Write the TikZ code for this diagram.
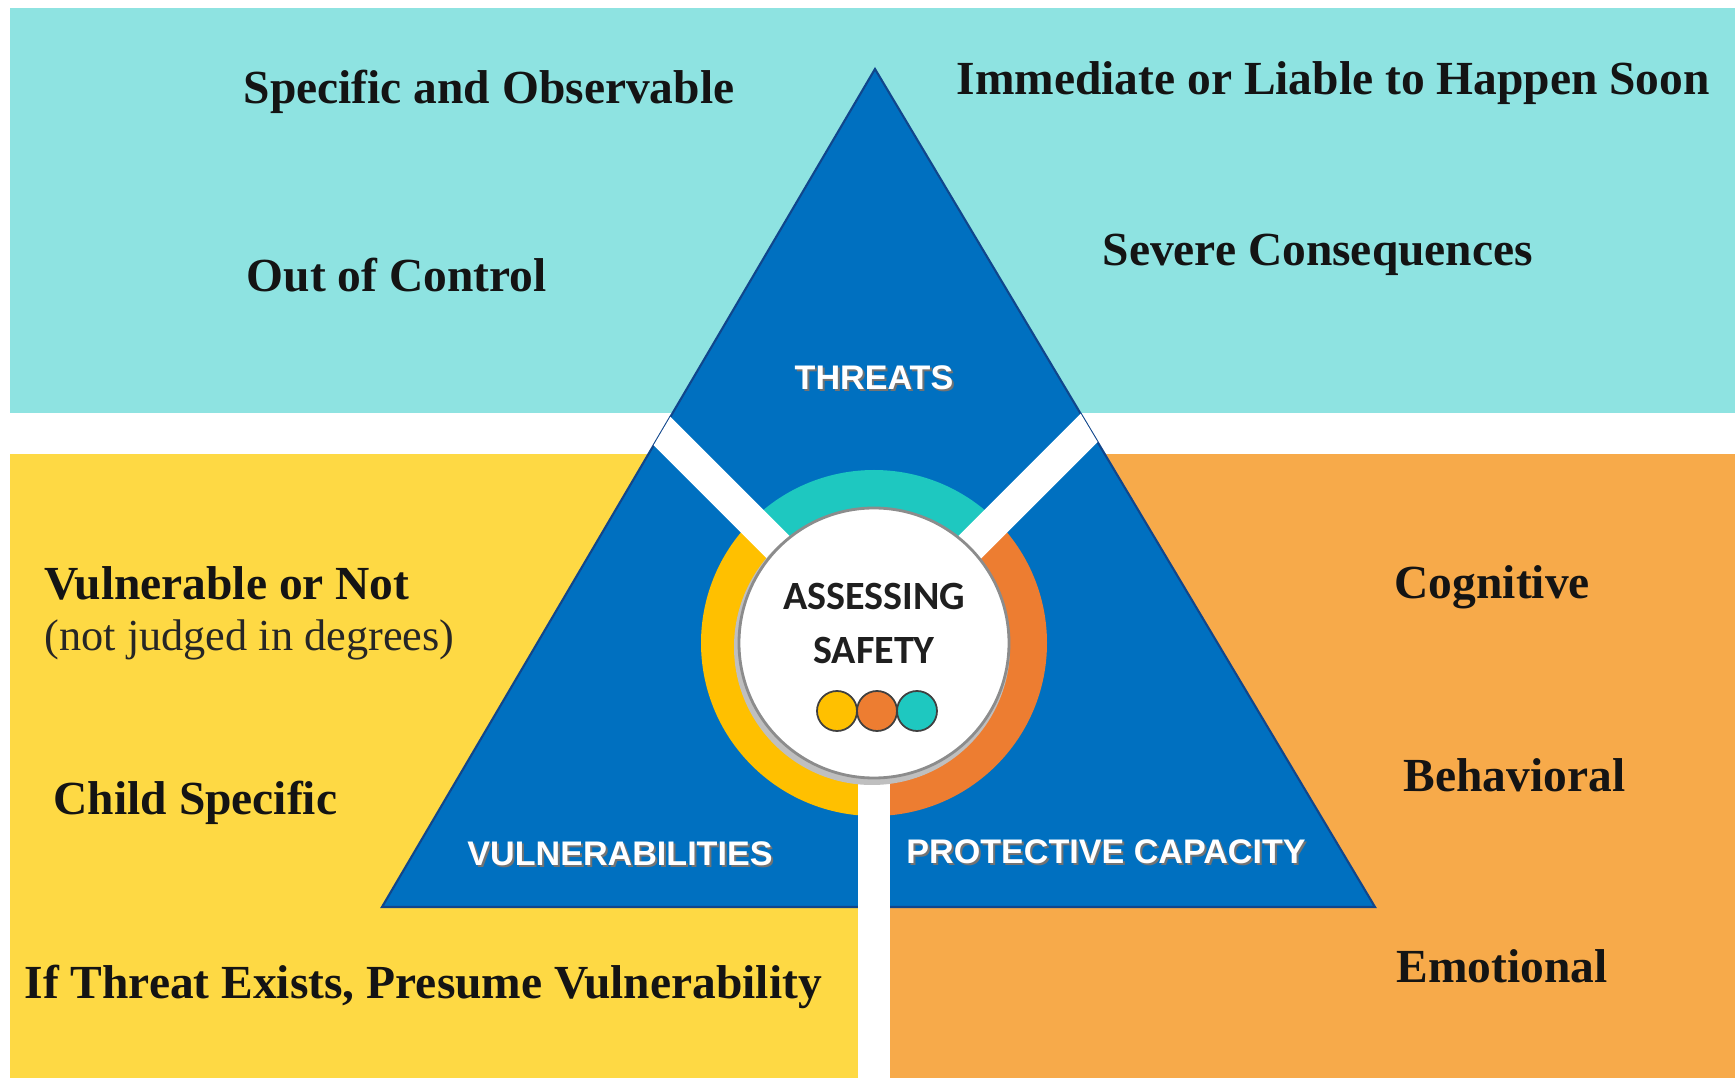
\documentclass[tikz,border=0pt]{standalone}
\usepackage{fontspec}
\setmainfont{Liberation Serif}
\newfontfamily\capsfont{Liberation Sans}
\newfontfamily\corefont{Carlito}
\definecolor{skyband}{RGB}{142,227,225}
\definecolor{sunband}{RGB}{254,217,68}
\definecolor{amberband}{RGB}{247,170,74}
\definecolor{triblue}{RGB}{0,112,192}
\definecolor{triedge}{RGB}{16,70,140}
\definecolor{ringcyan}{RGB}{30,200,192}
\definecolor{ringgold}{RGB}{255,192,0}
\definecolor{ringorange}{RGB}{237,125,49}
\begin{document}
\begin{tikzpicture}[x=0.01cm, y=0.01cm,
	lbl/.style={anchor=west, inner sep=0pt, text=black!92, font=\fontsize{13.5}{16}\selectfont\bfseries},
	note/.style={anchor=west, inner sep=0pt, text=black!85, font=\fontsize{12.6}{15}\selectfont},
	tag/.style={inner sep=0pt, text=white, font=\capsfont\fontsize{9.7}{11}\selectfont\bfseries},
	tagshade/.style={tag, text=black!55},
	core/.style={inner sep=0pt, text=black!88, font=\corefont\fontsize{11.4}{13}\selectfont\bfseries},
	gap/.style={white, line width=0.32cm},
	dot/.style={draw=black!75, line width=0.5pt}]
	\useasboundingbox (0,0) rectangle (1735,1078);
	\fill[white] (0,0) rectangle (1735,1078);
	\fill[skyband] (10,665) rectangle (1735,1070);
	\fill[sunband] (10,0) rectangle (858,624);
	\fill[amberband] (890,0) rectangle (1735,624);
	\coordinate (apex) at (875,1009);
	\coordinate (baseL) at (382,171);
	\coordinate (baseR) at (1375,171);
	\coordinate (mid) at (874,435);
	\coordinate (foot) at (874,0);
	\filldraw[fill=triblue, draw=triedge, line width=0.6pt] (apex) -- (baseL) -- (baseR) -- cycle;
	\fill[ringcyan] (mid) -- ++(45:173) arc[start angle=45, end angle=135, radius=173] -- cycle;
	\fill[ringgold] (mid) -- ++(135:173) arc[start angle=135, end angle=270, radius=173] -- cycle;
	\fill[ringorange] (mid) -- ++(270:173) arc[start angle=270, end angle=405, radius=173] -- cycle;
	\begin{scope}
		\clip (apex) -- (baseL) -- (baseR) -- cycle;
		\draw[gap] (mid) -- ++(135:420);
		\draw[gap] (mid) -- ++(45:420);
	\end{scope}
	\draw[gap] (mid) -- (foot);
	\fill[black!25] (872,431) circle (138);
	\filldraw[fill=white, draw=black!45, line width=0.8pt] (mid) circle (135);
	\filldraw[dot, fill=ringgold] (837,367) circle (20);
	\filldraw[dot, fill=ringorange] (877,367) circle (20);
	\filldraw[dot, fill=ringcyan] (917,367) circle (20);
	\node[core] (assess) at (874,482) {ASSESSING};
	\node[core] (safety) at (874,428) {SAFETY};
	\node[tagshade] at (876,698) {THREATS};
	\node[tag] (threats) at (874,700) {THREATS};
	\node[tagshade] at (622,222) {VULNERABILITIES};
	\node[tag] (vuln) at (620,224) {VULNERABILITIES};
	\node[tagshade] at (1108,224) {PROTECTIVE CAPACITY};
	\node[tag] (protect) at (1106,226) {PROTECTIVE CAPACITY};
	\node[lbl] (specific) at (243,986) {Specific and Observable};
	\node[lbl] (outctrl) at (246,803) {Out of Control};
	\node[lbl] (immediate) at (956,995) {Immediate or Liable to Happen Soon};
	\node[lbl] (severe) at (1102,823) {Severe Consequences};
	\node[lbl] (vulnot) at (44,495) {Vulnerable or Not};
	\node[note] (judged) at (44,438) {(not judged in degrees)};
	\node[lbl] (childspec) at (53,275) {Child Specific};
	\node[lbl] (presume) at (24,91) {If Threat Exists, Presume Vulnerability};
	\node[lbl] (cognitive) at (1394,491) {Cognitive};
	\node[lbl] (behav) at (1403,303) {Behavioral};
	\node[lbl] (emot) at (1396,112) {Emotional};
\end{tikzpicture}
\end{document}
